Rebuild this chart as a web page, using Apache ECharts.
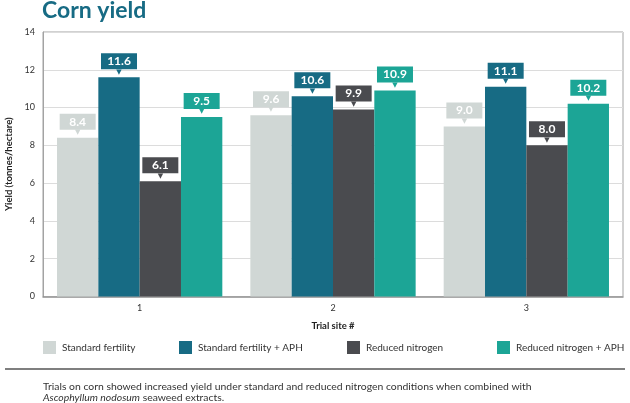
<!DOCTYPE html>
<html><head><meta charset="utf-8">
<script src="https://cdn.jsdelivr.net/npm/echarts@6/dist/echarts.min.js"></script>
<style>html,body{margin:0;padding:0;background:#fff}#c{width:630px;height:403px}</style>
</head><body><div id="c"></div>
<script>
const categories = ['1', '2', '3'];
const seriesNames = ['Standard fertility', 'Standard fertility + APH', 'Reduced nitrogen', 'Reduced nitrogen + APH'];
const standardFertility = [8.4, 9.6, 9.0];
const standardFertilityAPH = [11.6, 10.6, 11.1];
const reducedNitrogen = [6.1, 9.9, 8.0];
const reducedNitrogenAPH = [9.5, 10.9, 10.2];
const colors = ['#d0d7d5', '#176b84', '#4a4b4f', '#1ca596'];
const legendLeft = [43, 179, 347, 497];
const FONT = 'Lato';

const values = [standardFertility, standardFertilityAPH, reducedNitrogen, reducedNitrogenAPH];
const chart = echarts.init(document.getElementById('c'));
const series = values.map((v, i) => ({
  name: seriesNames[i], type: 'bar', data: v, barGap: '0%', barCategoryGap: '14.5%',
  itemStyle: { color: colors[i] },
  label: {
    show: true, position: 'top', distance: 3,
    formatter: p => '{b|' + p.value.toFixed(1) + '}\n{a|▼}',
    rich: {
      b: { backgroundColor: colors[i], color: '#fff', fontFamily: FONT, fontWeight: 'bold', fontSize: 12,
           width: 36, height: 16, lineHeight: 16, align: 'center', padding: [0, 0] },
      a: { color: colors[i], fontSize: 7, lineHeight: 5, height: 5, align: 'center', fontFamily: 'DejaVu Sans' }
    }
  }
}));
chart.setOption({
  animation: false,
  textStyle: { fontFamily: FONT },
  grid: { left: 43, right: 7, top: 32, bottom: 106.5, show: true, borderColor: '#a3a3a3', borderWidth: 1,
          containLabel: false, outerBoundsMode: 'none' },
  legend: seriesNames.map((n, i) => ({
    data: [n], left: legendLeft[i], top: 341, padding: 0, itemWidth: 13, itemHeight: 13, itemGap: 0,
    icon: 'rect', textStyle: { fontFamily: FONT, fontSize: 10, color: '#333', padding: [0, 0, 0, 1] }
  })),
  xAxis: {
    type: 'category', data: categories,
    axisLine: { lineStyle: { color: '#8f8f8f', width: 1.5 } }, axisTick: { show: false },
    axisLabel: { fontSize: 9, color: '#333', margin: 7 },
    name: 'Trial site #', nameLocation: 'middle', nameGap: 24,
    nameTextStyle: { fontWeight: 'bold', fontSize: 9.5, color: '#222' }
  },
  yAxis: {
    type: 'value', min: 0, max: 14, interval: 2,
    axisLine: { show: true, lineStyle: { color: '#a3a3a3' } }, axisTick: { show: false },
    splitLine: { lineStyle: { color: '#dcdcdc' } },
    axisLabel: { fontSize: 9, color: '#333', margin: 8 },
    name: 'Yield (tonnes/hectare)', nameLocation: 'middle', nameGap: 25,
    nameTextStyle: { fontWeight: 'bold', fontSize: 9.5, color: '#222' }
  },
  series: series,
  graphic: [
    { type: 'text', left: 42, top: -1, style: { text: 'Corn yield', fill: '#176b84', font: 'bold 23px ' + FONT } },
    { type: 'line', shape: { x1: 5, y1: 369, x2: 625, y2: 369 }, style: { stroke: '#555', lineWidth: 1.5 } },
    { type: 'text', left: 43, top: 381, style: {
        text: 'Trials on corn showed increased yield under standard and reduced nitrogen conditions when combined with\n{i|Ascophyllum nodosum} seaweed extracts.',
        fill: '#333', font: '10.4px ' + FONT, lineHeight: 11,
        rich: { i: { fontStyle: 'italic', fontFamily: FONT, fontSize: 10.4, fill: '#333' } }
    } }
  ]
});
</script></body></html>
